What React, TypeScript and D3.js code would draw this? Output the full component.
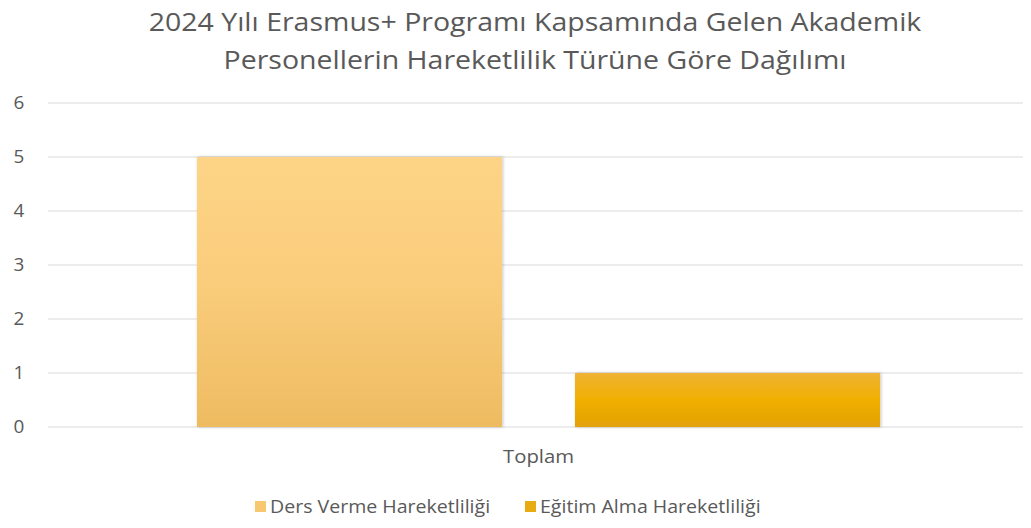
import React from "react";
import * as d3 from "d3";

const categories = ["Toplam"];
const seriesNames = ["Ders Verme Hareketliliği", "Eğitim Alma Hareketliliği"];
const seriesValues = [[5], [1]];
const yTicks = [0, 1, 2, 3, 4, 5, 6];
const titleLines = [
  "2024 Yılı Erasmus+ Programı Kapsamında Gelen Akademik",
  "Personellerin Hareketlilik Türüne Göre Dağılımı",
];

const W = 1031;
const H = 528;
const left = 48;
const right = 1029;
const top = 103;
const bottom = 427;
const font = "'Open Sans', 'Noto Sans', sans-serif";
const grads = [
  ["#fdd487", "#f9cc7a", "#eebb60"],
  ["#efb234", "#f0b000", "#e3a108"],
];
const swatch = ["#f7c86f", "#e8ac12"];

// stretched label, like the source rendering
const Label = ({ x, y, size, sx = 1, anchor = "middle", children }: any) => (
  <g transform={`translate(${x},${y}) scale(${sx},1)`}>
    <text textAnchor={anchor} fontFamily={font} fontSize={size} fill="#595959">
      {children}
    </text>
  </g>
);

const App = () => {
  const y = d3.scaleLinear().domain([0, 6]).range([bottom, top]);
  const x0 = d3
    .scaleBand()
    .domain(categories)
    .range([left, right])
    .paddingOuter(0.218)
    .paddingInner(0);
  const x1 = d3
    .scaleBand()
    .domain(seriesNames)
    .range([0, x0.bandwidth()])
    .paddingInner(0.193)
    .paddingOuter(0);

  return (
    <svg width={W} height={H} style={{ display: "block", margin: "-8px" }}>
      <defs>
        {grads.map((g, i) => (
          <linearGradient key={i} id={`g${i}`} x1="0" y1="0" x2="0" y2="1">
            <stop offset="0%" stopColor={g[0]} />
            <stop offset="50%" stopColor={g[1]} />
            <stop offset="100%" stopColor={g[2]} />
          </linearGradient>
        ))}
        <filter id="sh" x="-5%" y="-5%" width="110%" height="110%">
          <feDropShadow dx="1" dy="0" stdDeviation="1.5" floodColor="#000" floodOpacity="0.25" />
        </filter>
      </defs>
      <rect width={W} height={H} fill="#fff" />
      {titleLines.map((t, i) => (
        <Label key={i} x={535} y={31 + i * 38} size={25} sx={1.14}>
          {t}
        </Label>
      ))}
      {yTicks.map((t) => (
        <g key={t}>
          <line x1={left} x2={right} y1={y(t)} y2={y(t)} stroke="#d9d9d9" strokeWidth={1} />
          <Label x={19} y={y(t) + 6} size={18} sx={1.05}>
            {t}
          </Label>
        </g>
      ))}
      {categories.map((c, ci) => (
        <g key={c} transform={`translate(${x0(c)},0)`}>
          {seriesNames.map((s, si) => (
            <rect
              key={s}
              x={x1(s)}
              y={y(seriesValues[si][ci])}
              width={x1.bandwidth()}
              height={bottom - y(seriesValues[si][ci])}
              fill={`url(#g${si})`}
              filter="url(#sh)"
            />
          ))}
          <Label x={x0.bandwidth() / 2} y={463} size={19} sx={1.07}>
            {c}
          </Label>
        </g>
      ))}
      {seriesNames.map((s, i) => {
        const lx = [255, 525][i];
        return (
          <g key={s} transform={`translate(${lx},513)`}>
            <rect x={0} y={-12} width={11} height={11} fill={swatch[i]} />
            <Label x={15} y={0} size={19} sx={1.03} anchor="start">
              {s}
            </Label>
          </g>
        );
      })}
    </svg>
  );
};

export default App;
